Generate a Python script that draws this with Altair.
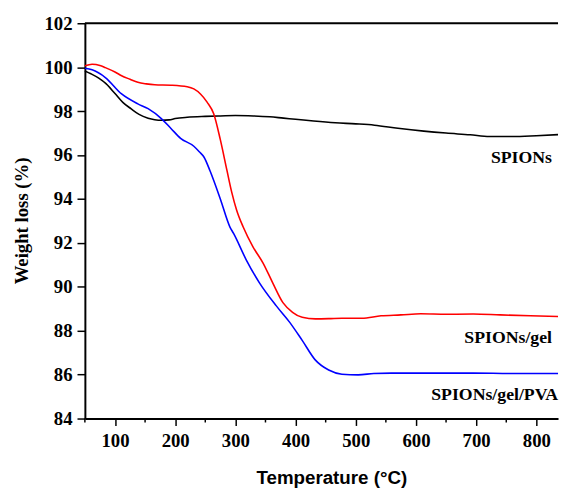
import altair as alt
import pandas as pd

# SPIONs (black)
t_spions = [50, 60, 73, 85, 100, 113, 127, 140, 155, 166, 177, 190, 200, 220, 250, 275, 300, 330, 357,
            380, 400, 430, 466, 500, 531, 570, 613, 650, 690, 722, 760, 800, 836]
w_spions = [99.83, 99.7, 99.5, 99.25, 98.8, 98.4, 98.1, 97.85, 97.68, 97.61, 97.58, 97.6, 97.66, 97.72,
            97.76, 97.78, 97.8, 97.78, 97.74, 97.68, 97.63, 97.55, 97.47, 97.42, 97.36, 97.22, 97.09,
            97.0, 96.92, 96.84, 96.84, 96.88, 96.93]

# SPIONs/gel (red)
t_gel = [50, 62, 75, 84, 100, 111, 125, 138, 152, 166, 193, 220, 231, 242, 253, 264, 275, 286, 294, 302,
         313, 329, 346, 362, 379, 395, 411, 433, 455, 477, 510, 542, 575, 608, 650, 695, 740, 790, 836]
w_gel = [100.06, 100.13, 100.08, 99.98, 99.78, 99.61, 99.45, 99.31, 99.24, 99.2, 99.18, 99.11, 99.01,
         98.78, 98.41, 97.88, 96.7, 95.3, 94.3, 93.5, 92.72, 91.83, 91.08, 90.18, 89.28, 88.84, 88.61,
         88.54, 88.55, 88.57, 88.57, 88.68, 88.72, 88.77, 88.75, 88.76, 88.72, 88.68, 88.65]

# SPIONs/gel/PVA (blue)
t_pva = [50, 62, 84, 111, 138, 155, 177, 193, 209, 231, 240, 248, 258, 275, 291, 297, 318, 340, 368, 390,
         411, 433, 455, 477, 504, 530, 559, 613, 695, 760, 836]
w_pva = [99.95, 99.88, 99.53, 98.78, 98.33, 98.11, 97.66, 97.21, 96.76, 96.4, 96.15, 95.9, 95.27, 94.0,
         92.72, 92.43, 91.23, 90.18, 89.13, 88.39, 87.56, 86.66, 86.21, 86.02, 85.99, 86.05, 86.07, 86.07,
         86.07, 86.05, 86.05]

series_names = ["SPIONs", "SPIONs/gel", "SPIONs/gel/PVA"]
series_colors = ["#000000", "#ff0000", "#0000ff"]

label_text = ["SPIONs", "SPIONs/gel", "SPIONs/gel/PVA"]
label_x = [826, 826, 836]
label_y = [95.86, 87.68, 85.09]

x_major = [100, 200, 300, 400, 500, 600, 700, 800]
x_minor = [50, 150, 250, 350, 450, 550, 650, 750]

rows = []
for name, ts, ws in zip(series_names, [t_spions, t_gel, t_pva], [w_spions, w_gel, w_pva]):
    for t, w in zip(ts, ws):
        rows.append({"series": name, "T": t, "W": w})
df = pd.DataFrame(rows)
labels_df = pd.DataFrame({"label": label_text, "x": label_x, "y": label_y})
top_df = pd.DataFrame({"y": [102]})
minor_df = pd.DataFrame({"x": x_minor})

x_scale = alt.Scale(domain=[50, 836], nice=False, zero=False)
y_scale = alt.Scale(domain=[84, 102], nice=False, zero=False)

x_axis = alt.Axis(
    title="Temperature (°C)",
    values=x_major,
    labelOverlap=False,
    labelFlush=False,
    tickSize=7,
    labelPadding=6,
    titleFont="Liberation Sans", titleFontWeight="bold", titleFontSize=19,
    titleX=250, titleY=66, titleBaseline="alphabetic", titleAlign="center",
)
y_axis = alt.Axis(
    title="Weight loss (%)",
    values=list(range(84, 103, 1)),
    labelExpr="datum.value % 2 === 0 ? datum.label : ''",
    labelOverlap=False,
    tickSize={"condition": {"test": "datum.value % 2 === 0", "value": 8}, "value": 4},
    labelPadding=5,
    titleFont="Liberation Serif", titleFontWeight="bold", titleFontSize=19,
    titleX=-64, titleY=200, titleBaseline="middle", titleAlign="center", titleAngle=-90,
)

lines = alt.Chart(df).mark_line(strokeWidth=1.6, interpolate="monotone").encode(
    x=alt.X("T:Q", scale=x_scale, axis=x_axis),
    y=alt.Y("W:Q", scale=y_scale, axis=y_axis),
    color=alt.Color("series:N", scale=alt.Scale(domain=series_names, range=series_colors), legend=None),
    detail="series:N",
)

# minor x ticks below the axis line
minor_ticks = alt.Chart(minor_df).mark_rule(strokeWidth=1.5, color="black", y2Offset=4).encode(
    x=alt.X("x:Q", scale=x_scale),
    y=alt.datum(84, scale=y_scale),
    y2=alt.datum(84),
)

top_rule = alt.Chart(top_df).mark_rule(strokeWidth=2, color="black").encode(
    y=alt.Y("y:Q", scale=y_scale)
)

texts = alt.Chart(labels_df).mark_text(
    align="right", baseline="middle", font="Liberation Serif", fontWeight="bold", fontSize=18, color="black"
).encode(
    x=alt.X("x:Q", scale=x_scale),
    y=alt.Y("y:Q", scale=y_scale),
    text="label:N",
)

chart = alt.layer(lines, minor_ticks, top_rule, texts).properties(
    width=480, height=401,
    padding={"left": 78, "top": 12, "right": 2, "bottom": 69},
    autosize=alt.AutoSizeParams(type="none"),
).configure_view(stroke=None, clip=False).configure_axis(
    grid=False,
    domainColor="black", domainWidth=2,
    tickColor="black", tickWidth=1.5,
    labelFont="Liberation Serif", labelFontWeight="bold", labelFontSize=19, labelColor="black",
    titleColor="black",
)

chart.save("out.html", embed_options={"renderer": "svg", "actions": False})
